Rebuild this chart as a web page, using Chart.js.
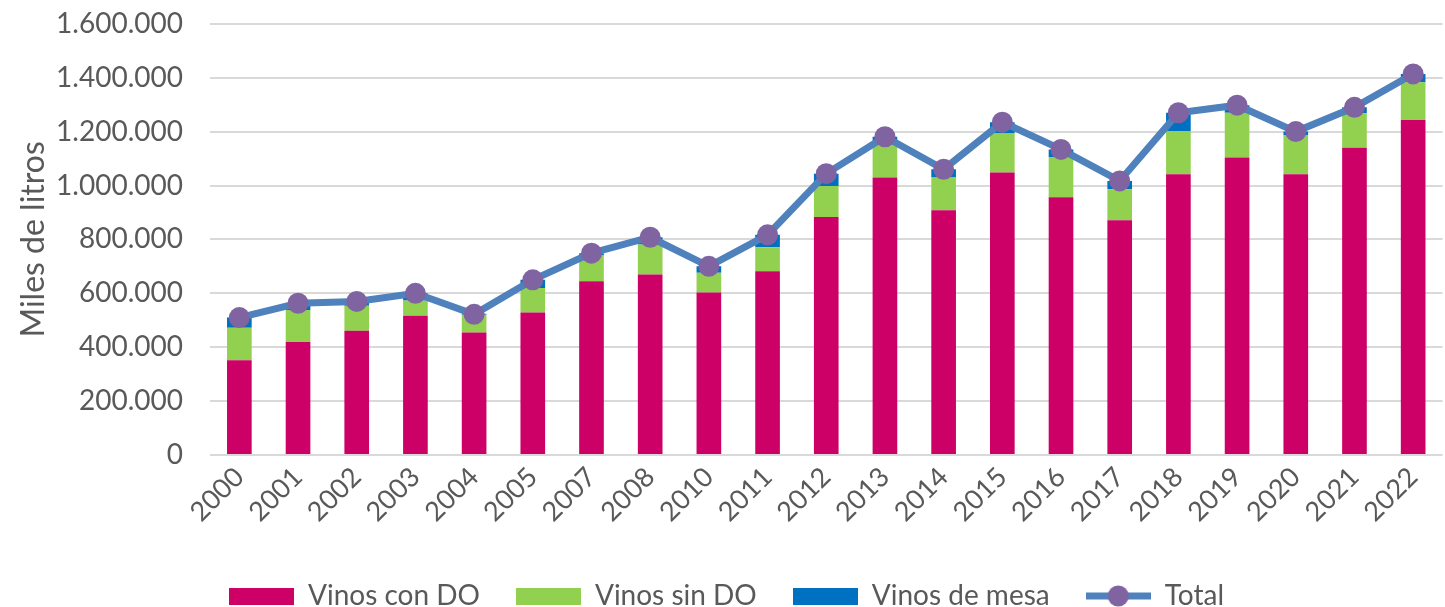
<!DOCTYPE html>
<html>
<head>
<meta charset="utf-8">
<script src="https://cdn.jsdelivr.net/npm/chart.js@4.4.0/dist/chart.umd.min.js"></script>
<style>
    html, body { margin: 0; padding: 0; background: #fff; overflow: hidden; }
    #wrap { position: relative; top: -20px; width: 1453px; height: 627px; }
</style>
</head>
<body>
<div id="wrap"><canvas id="vinos-chart"></canvas></div>
<script>
// miles de litros
const years = ['2000', '2001', '2002', '2003', '2004', '2005', '2007', '2008', '2010', '2011',
    '2012', '2013', '2014', '2015', '2016', '2017', '2018', '2019', '2020', '2021', '2022'];
const vinos_con_do = [352000, 419000, 461000, 517000, 455000, 529000, 645000, 670000, 603000, 682000,
    883000, 1030000, 908000, 1048000, 956000, 871000, 1042000, 1104000, 1042000, 1140000, 1243000];
const vinos_sin_do = [120000, 119000, 93000, 56000, 65000, 91000, 95000, 111000, 73000, 89000,
    115000, 126000, 122000, 145000, 150000, 115000, 160000, 166000, 145000, 128000, 140000];
const vinos_de_mesa = [38000, 25000, 16000, 27000, 4000, 30000, 9000, 27000, 24000, 46000,
    46000, 25000, 30000, 42000, 28000, 31000, 68000, 28000, 13000, 22000, 31000];
const total = [510000, 563000, 570000, 600000, 522000, 650000, 749000, 808000, 700000, 817000,
    1044000, 1181000, 1060000, 1235000, 1134000, 1017000, 1270000, 1298000, 1200000, 1290000, 1414000];
const y_ticks = [0, 200000, 400000, 600000, 800000, 1000000, 1200000, 1400000, 1600000];

const COLORS = {
    con_do: '#CC0066',
    sin_do: '#92D050',
    mesa: '#0070C0',
    line: '#4F81BD',
    marker: '#8064A2',
    text: '#595959',
    grid: '#D9D9D9'
};

function format_miles(v) {
    return String(v).replace(/\B(?=(\d{3})+(?!\d))/g, '.');
}

function rect_icon(color) {
    const c = document.createElement('canvas');
    c.width = 65;
    c.height = 17;
    const ctx = c.getContext('2d');
    ctx.fillStyle = color;
    ctx.fillRect(0, 0, 65, 17);
    return c;
}

function line_icon() {
    const c = document.createElement('canvas');
    c.width = 65;
    c.height = 22;
    const ctx = c.getContext('2d');
    ctx.strokeStyle = COLORS.line;
    ctx.lineWidth = 7;
    ctx.beginPath();
    ctx.moveTo(0, 11);
    ctx.lineTo(65, 11);
    ctx.stroke();
    ctx.fillStyle = COLORS.marker;
    ctx.beginPath();
    ctx.arc(32.5, 11, 10.5, 0, Math.PI * 2);
    ctx.fill();
    return c;
}

const legend_icons = [rect_icon(COLORS.con_do), rect_icon(COLORS.sin_do), rect_icon(COLORS.mesa), line_icon()];

const bar_opts = {
    type: 'bar',
    stack: 'vinos',
    order: 1,
    categoryPercentage: 1,
    barPercentage: 0.42,
    borderWidth: 0
};

new Chart(document.getElementById('vinos-chart'), {
    data: {
        labels: years,
        datasets: [
            Object.assign({ label: 'Vinos con DO', data: vinos_con_do, backgroundColor: COLORS.con_do }, bar_opts),
            Object.assign({ label: 'Vinos sin DO', data: vinos_sin_do, backgroundColor: COLORS.sin_do }, bar_opts),
            Object.assign({ label: 'Vinos de mesa', data: vinos_de_mesa, backgroundColor: COLORS.mesa }, bar_opts),
            {
                type: 'line',
                label: 'Total',
                data: total,
                stack: 'total',
                order: 0,
                borderColor: COLORS.line,
                borderWidth: 7,
                backgroundColor: COLORS.marker,
                pointBackgroundColor: COLORS.marker,
                pointBorderWidth: 0,
                pointRadius: 10.5,
                tension: 0,
                fill: false
            }
        ]
    },
    options: {
        responsive: true,
        maintainAspectRatio: false,
        animation: false,
        layout: {
            padding: { top: 5, right: 0, bottom: -13, left: 0 }
        },
        scales: {
            x: {
                stacked: true,
                grid: { display: false, drawTicks: false },
                border: { display: false },
                ticks: {
                    color: COLORS.text,
                    font: { family: 'Lato', size: 27 },
                    minRotation: 45,
                    maxRotation: 45,
                    padding: 6,
                    autoSkip: false
                },
                afterFit: (scale) => { scale.height = 91; }
            },
            y: {
                stacked: true,
                min: 0,
                max: 1600000,
                afterBuildTicks: (scale) => { scale.ticks = y_ticks.map((v) => ({ value: v })); },
                grid: { color: COLORS.grid, lineWidth: 2, drawTicks: false },
                border: { display: false },
                ticks: {
                    color: COLORS.text,
                    font: { family: 'Lato', size: 28 },
                    padding: 27,
                    callback: (v) => format_miles(v)
                },
                title: {
                    display: true,
                    text: 'Miles de litros',
                    color: COLORS.text,
                    font: { family: 'Lato', size: 32 },
                    padding: { top: 14, bottom: 0 }
                },
                afterFit: (scale) => { scale.width = 210; }
            }
        },
        plugins: {
            tooltip: { enabled: false },
            legend: {
                position: 'bottom',
                labels: {
                    color: COLORS.text,
                    font: { family: 'Lato', size: 28 },
                    usePointStyle: true,
                    pointStyleWidth: 65,
                    boxHeight: 17,
                    padding: 36,
                    sort: (a, b) => a.datasetIndex - b.datasetIndex,
                    generateLabels: function(chart) {
                        const items = Chart.defaults.plugins.legend.labels.generateLabels(chart);
                        items.forEach((item) => {
                            item.pointStyle = legend_icons[item.datasetIndex];
                            item.lineWidth = 0;
                        });
                        return items;
                    }
                }
            }
        }
    }
});
</script>
</body>
</html>
